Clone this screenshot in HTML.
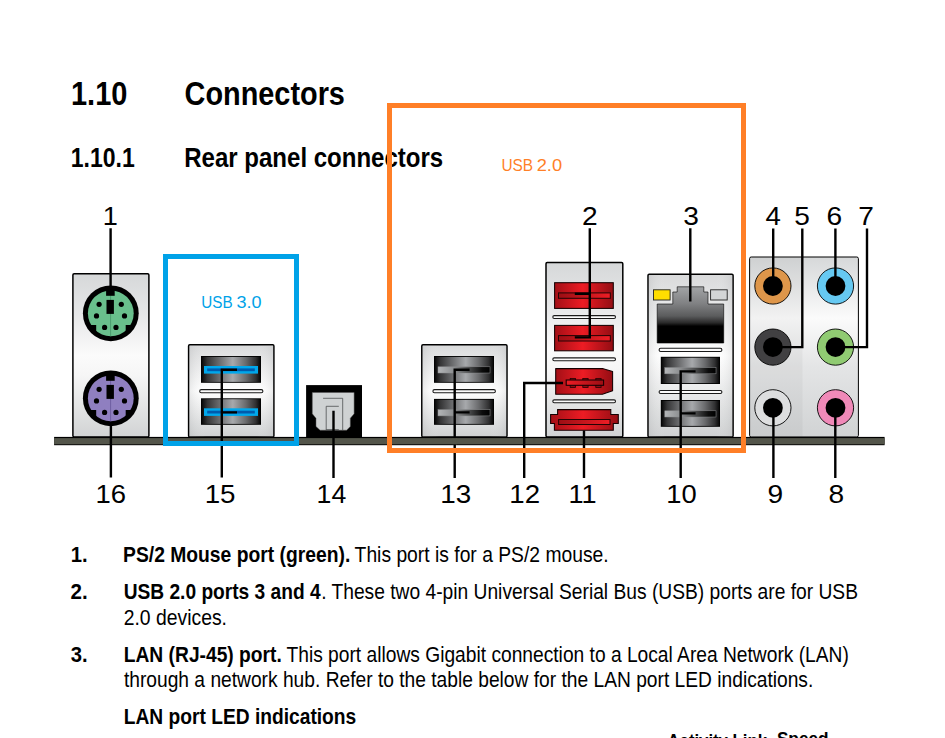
<!DOCTYPE html>
<html lang="en">
<head>
<meta charset="utf-8">
<title>1.10 Connectors</title>
<style>
html,body{margin:0;padding:0;background:#fff;}
body{width:945px;height:738px;overflow:hidden;}
svg{display:block;}
text{white-space:pre;}
</style>
</head>
<body>
<svg width="945" height="738" viewBox="0 0 945 738">

<defs>
<linearGradient id="pg" x1="0" y1="0" x2="0" y2="1">
<stop offset="0" stop-color="#d6d8d9"/><stop offset="0.25" stop-color="#e6e7e8"/><stop offset="0.5" stop-color="#fbfbfb"/><stop offset="0.62" stop-color="#f6f6f6"/><stop offset="1" stop-color="#d1d3d4"/>
</linearGradient>
<linearGradient id="pg2" x1="0" y1="0" x2="0" y2="1">
<stop offset="0" stop-color="#d9dadb"/><stop offset="0.5" stop-color="#ffffff"/><stop offset="1" stop-color="#cfd1d2"/>
</linearGradient>
<linearGradient id="pga" x1="0" y1="0" x2="0" y2="1">
<stop offset="0" stop-color="#d6d8d9"/><stop offset="0.34" stop-color="#fbfbfb"/><stop offset="0.6" stop-color="#e4e5e6"/><stop offset="1" stop-color="#d1d3d4"/>
</linearGradient>
<linearGradient id="bev" x1="0" y1="0" x2="1" y2="0">
<stop offset="0" stop-color="#9a9c9e" stop-opacity="0.2"/><stop offset="0.1" stop-color="#c8c9ca" stop-opacity="0.08"/><stop offset="0.2" stop-color="#fff" stop-opacity="0"/><stop offset="0.8" stop-color="#fff" stop-opacity="0"/><stop offset="0.9" stop-color="#c8c9ca" stop-opacity="0.08"/><stop offset="1" stop-color="#9a9c9e" stop-opacity="0.2"/>
</linearGradient>
<linearGradient id="usbg" x1="0" y1="0" x2="1" y2="0">
<stop offset="0" stop-color="#050505"/><stop offset="0.1" stop-color="#353536"/><stop offset="0.3" stop-color="#6a6b6d"/><stop offset="0.53" stop-color="#a7a9ac"/><stop offset="0.75" stop-color="#6a6b6d"/><stop offset="0.92" stop-color="#303031"/><stop offset="1" stop-color="#050505"/>
</linearGradient>
<linearGradient id="tong" x1="0" y1="0" x2="1" y2="0">
<stop offset="0" stop-color="#b4b6b8"/><stop offset="0.3" stop-color="#8c8e90"/><stop offset="0.6" stop-color="#4a4b4c"/><stop offset="0.85" stop-color="#0c0c0c"/><stop offset="1" stop-color="#000"/>
</linearGradient>
<linearGradient id="redg" x1="0" y1="0" x2="1" y2="0">
<stop offset="0" stop-color="#a30f16"/><stop offset="0.48" stop-color="#ed1c24"/><stop offset="1" stop-color="#930d13"/>
</linearGradient>
<linearGradient id="redt" x1="0" y1="0" x2="1" y2="0">
<stop offset="0" stop-color="#9c0e14"/><stop offset="1" stop-color="#ee1d25"/>
</linearGradient>
<linearGradient id="redt2" x1="0" y1="0" x2="1" y2="0">
<stop offset="0" stop-color="#ee1d25"/><stop offset="1" stop-color="#9c0e14"/>
</linearGradient>
<linearGradient id="rj" x1="0" y1="0" x2="0" y2="1">
<stop offset="0" stop-color="#a2a4a6"/><stop offset="0.3" stop-color="#808183"/><stop offset="0.52" stop-color="#5b5c5d"/><stop offset="0.64" stop-color="#2a2a2a"/><stop offset="0.7" stop-color="#000"/><stop offset="1" stop-color="#000"/>
</linearGradient>
</defs>

<rect x="72.9" y="273.8" width="76.00" height="163.20" rx="1.2" fill="url(#pg)" stroke="#000" stroke-width="1.5"/>
<rect x="188.6" y="344.8" width="85.30" height="92.20" rx="1.2" fill="url(#pg2)" stroke="#000" stroke-width="1.5"/>
<rect x="189.2" y="345.4" width="84.10" height="91.60" fill="url(#bev)"/>
<rect x="421.8" y="344.8" width="85.20" height="92.20" rx="1.2" fill="url(#pg2)" stroke="#000" stroke-width="1.5"/>
<rect x="422.4" y="345.4" width="84.00" height="91.60" fill="url(#bev)"/>
<rect x="546.0" y="262.6" width="76.80" height="174.40" rx="1.2" fill="url(#pg)" stroke="#000" stroke-width="1.5"/>
<rect x="648.0" y="274.2" width="85.10" height="162.80" rx="1.2" fill="url(#pg2)" stroke="#000" stroke-width="1.5"/>
<rect x="648.6" y="274.8" width="83.90" height="162.20" fill="url(#bev)"/>
<rect x="749.6" y="257.0" width="108.80" height="180.00" rx="1.6" fill="url(#pga)" stroke="#000" stroke-width="1.0"/>
<rect x="750.1" y="257.5" width="52.4" height="179" fill="#000" opacity="0.035"/>
<rect x="54.1" y="436.9" width="830.5" height="8.3" fill="#000"/>
<rect x="54.1" y="438.1" width="830.5" height="6.2" fill="#53554a"/>
<circle cx="110.8" cy="313.3" r="27.9" fill="#000"/>
<circle cx="110.8" cy="313.3" r="22.9" fill="#69bf8c"/>
<line x1="110.60" y1="295.30" x2="110.60" y2="336.70" stroke="#2f7d50" stroke-width="0.5"/>
<rect x="106.10" y="288.80" width="8.6" height="7.0" fill="#000"/>
<path d="M96.20 324.90 H88.65 A25.0 25.0 0 0 0 96.20 333.59 Z" fill="#000"/>
<path d="M125.70 324.90 H132.95 A25.0 25.0 0 0 1 125.70 333.37 Z" fill="#000"/>
<rect x="106.50" y="299.90" width="7.4" height="14.0" fill="#000"/>
<circle cx="99.10" cy="304.30" r="2.6" fill="#000"/>
<circle cx="121.30" cy="304.30" r="2.6" fill="#000"/>
<circle cx="96.50" cy="315.90" r="2.6" fill="#000"/>
<circle cx="124.50" cy="315.90" r="2.6" fill="#000"/>
<circle cx="104.60" cy="327.40" r="2.6" fill="#000"/>
<circle cx="116.00" cy="327.40" r="2.6" fill="#000"/>
<circle cx="110.8" cy="398.3" r="27.9" fill="#000"/>
<circle cx="110.8" cy="398.3" r="22.9" fill="#8f7fc0"/>
<line x1="110.60" y1="380.30" x2="110.60" y2="421.70" stroke="#4f3f85" stroke-width="0.5"/>
<rect x="106.10" y="373.80" width="8.6" height="7.0" fill="#000"/>
<path d="M96.20 409.90 H88.65 A25.0 25.0 0 0 0 96.20 418.59 Z" fill="#000"/>
<path d="M125.70 409.90 H132.95 A25.0 25.0 0 0 1 125.70 418.37 Z" fill="#000"/>
<rect x="106.50" y="384.90" width="7.4" height="14.0" fill="#000"/>
<circle cx="99.10" cy="389.30" r="2.6" fill="#000"/>
<circle cx="121.30" cy="389.30" r="2.6" fill="#000"/>
<circle cx="96.50" cy="400.90" r="2.6" fill="#000"/>
<circle cx="124.50" cy="400.90" r="2.6" fill="#000"/>
<circle cx="104.60" cy="412.40" r="2.6" fill="#000"/>
<circle cx="116.00" cy="412.40" r="2.6" fill="#000"/>
<rect x="201" y="356" width="60.00" height="26.80" fill="#000"/>
<rect x="201.50" y="356.90" width="59.00" height="25.00" fill="url(#usbg)"/>
<rect x="204.00" y="366.00" width="54.00" height="7.60" fill="#00a8ec"/>
<rect x="207.20" y="368.40" width="47.60" height="2.80" fill="#005bac"/>
<rect x="199.70" y="389.60" width="63.20" height="3.20" rx="1.60" fill="#fbfbfb" stroke="#1a1a1a" stroke-width="1.1"/>
<rect x="201" y="398.3" width="60.00" height="26.50" fill="#000"/>
<rect x="201.50" y="399.20" width="59.00" height="24.70" fill="url(#usbg)"/>
<rect x="204.00" y="408.30" width="54.00" height="7.60" fill="#00a8ec"/>
<rect x="207.20" y="410.70" width="47.60" height="2.80" fill="#005bac"/>
<rect x="306.1" y="385.1" width="55.9" height="52" fill="#000"/>
<path d="M312.3 392.5 H354.1 V413.8 L350.3 418.3 V426.5 L346.6 430.2 H320.1 L316 426.5 V418.3 L312.3 413.8 Z" fill="#cfd2d3" stroke="#555" stroke-width="0.5"/>
<path d="M323.1 398.3 H342.7 V430.2 M326.2 430.2 V406.3 H338.8 M326.2 429.6 H338.8" fill="none" stroke="#4d4f51" stroke-width="0.8"/>
<rect x="434" y="356" width="60.00" height="26.80" fill="#000"/>
<rect x="434.50" y="356.90" width="59.00" height="25.00" fill="url(#usbg)"/>
<rect x="438.00" y="366.80" width="52.00" height="6.20" fill="url(#tong)" stroke="#8a8c8e" stroke-width="0.5"/>
<rect x="432.90" y="389.60" width="62.50" height="3.20" rx="1.60" fill="#fbfbfb" stroke="#1a1a1a" stroke-width="1.1"/>
<rect x="434" y="398.9" width="60.00" height="25.90" fill="#000"/>
<rect x="434.50" y="399.80" width="59.00" height="24.10" fill="url(#usbg)"/>
<rect x="438.00" y="409.70" width="52.00" height="6.20" fill="url(#tong)" stroke="#8a8c8e" stroke-width="0.5"/>
<rect x="554.60" y="282.70" width="58.70" height="25.70" fill="url(#redg)" stroke="#140102" stroke-width="1.05"/>
<rect x="558.50" y="292.90" width="51.80" height="5.40" fill="url(#redt)" stroke="#240304" stroke-width="1"/>
<rect x="552.80" y="315.60" width="62.70" height="2.90" rx="1.45" fill="#fbfbfb" stroke="#1a1a1a" stroke-width="1.1"/>
<rect x="554.60" y="325.40" width="58.70" height="25.40" fill="url(#redg)" stroke="#140102" stroke-width="1.05"/>
<rect x="558.50" y="335.60" width="51.80" height="5.40" fill="url(#redt)" stroke="#240304" stroke-width="1"/>
<rect x="552.80" y="357.90" width="62.70" height="2.90" rx="1.45" fill="#fbfbfb" stroke="#1a1a1a" stroke-width="1.1"/>
<path d="M555.7 368.6 H602.4 L612.6 371.5 V390.8 L602.4 394.2 H555.7 Z" fill="url(#redg)" stroke="#140102" stroke-width="1.05" stroke-linejoin="round"/>
<rect x="570.2" y="378.4" width="5.3" height="9.0" fill="#8e0c12" stroke="#240304" stroke-width="0.8"/>
<rect x="582.8" y="378.4" width="5.3" height="9.0" fill="#8e0c12" stroke="#240304" stroke-width="0.8"/>
<rect x="595.8" y="378.4" width="5.3" height="9.0" fill="#8e0c12" stroke="#240304" stroke-width="0.8"/>
<rect x="566.2" y="380.0" width="37.4" height="5.3" fill="url(#redt2)" stroke="#140102" stroke-width="1.05"/>
<rect x="552.80" y="399.90" width="62.70" height="2.90" rx="1.45" fill="#fbfbfb" stroke="#1a1a1a" stroke-width="1.1"/>
<path d="M557.6 409.6 H610.8 V414.4 H618.3 V423.4 H613.3 V430.3 H554.4 V423.4 H550.6 V414.4 H557.6 Z" fill="url(#redg)" stroke="#140102" stroke-width="1.05"/>
<rect x="558.6" y="419.5" width="51.4" height="5.0" fill="url(#redt)" stroke="#240304" stroke-width="1"/>
<rect x="653.5" y="289.8" width="16.6" height="10.2" fill="#ffde00" stroke="#222" stroke-width="0.9"/>
<rect x="710.6" y="289.8" width="16.6" height="10.2" fill="#d3d5d6" stroke="#222" stroke-width="0.9"/>
<path d="M657.2 304 H672.8 V292 H677.2 V286.8 H703.8 V292 H708 V304 H723.7 V343 H657.2 Z" fill="url(#rj)" stroke="#000" stroke-width="0.6"/>
<rect x="659.10" y="348.30" width="62.80" height="3.20" rx="1.60" fill="#fbfbfb" stroke="#1a1a1a" stroke-width="1.1"/>
<rect x="660.8" y="356.8" width="59.20" height="27.20" fill="#000"/>
<rect x="661.30" y="357.70" width="58.20" height="25.40" fill="url(#usbg)"/>
<rect x="664.80" y="367.60" width="51.20" height="6.20" fill="url(#tong)" stroke="#8a8c8e" stroke-width="0.5"/>
<rect x="659.10" y="390.50" width="62.80" height="3.00" rx="1.50" fill="#fbfbfb" stroke="#1a1a1a" stroke-width="1.1"/>
<rect x="660.8" y="400" width="59.20" height="26.80" fill="#000"/>
<rect x="661.30" y="400.90" width="58.20" height="25.00" fill="url(#usbg)"/>
<rect x="664.80" y="410.80" width="51.20" height="6.20" fill="url(#tong)" stroke="#8a8c8e" stroke-width="0.5"/>
<circle cx="772.9" cy="286" r="18.1" fill="#de964a" stroke="#000" stroke-width="0.9"/>
<circle cx="772.9" cy="286" r="9.9" fill="#000"/>
<circle cx="835.5" cy="286" r="18.1" fill="#66c9f2" stroke="#000" stroke-width="0.9"/>
<circle cx="835.5" cy="286" r="9.9" fill="#000"/>
<circle cx="772.9" cy="347.1" r="18.1" fill="#414042" stroke="#000" stroke-width="0.9"/>
<circle cx="772.9" cy="347.1" r="9.9" fill="#000"/>
<circle cx="835.5" cy="347.1" r="18.1" fill="#90cb72" stroke="#000" stroke-width="0.9"/>
<circle cx="835.5" cy="347.1" r="9.9" fill="#000"/>
<circle cx="772.9" cy="407.8" r="18.1" fill="#dddedf" stroke="#000" stroke-width="0.9"/>
<circle cx="772.9" cy="407.8" r="9.9" fill="#000"/>
<circle cx="835.5" cy="407.8" r="18.1" fill="#f089b8" stroke="#000" stroke-width="0.9"/>
<circle cx="835.5" cy="407.8" r="9.9" fill="#000"/>
<path d="M110.6 228.2 V291 M110.9 425 V477.4 M237 369.8 H221.8 V477.4 M237 412.4 H221.8 M333.5 410.8 V478 M469.6 369.8 H454.7 V478 M469.6 412.4 H454.7 M574.8 293.8 H589.8 M589.8 228.2 V337.4 H574.8 M563 383 H524.2 V478 M584 430.6 V478 M690.3 228.2 V301.6 M695.6 371.4 H680.7 V478 M695.6 413.4 H680.7 M773.2 228.6 V286 M802.3 228.6 V347.1 H772.9 M835.4 228.6 V286 M867 228.6 V347.1 H835.5 M773.4 407.8 V478 M835.3 407.8 V478" fill="none" stroke="#000" stroke-width="2.4"/>
<rect x="452.5" y="438.1" width="4.4" height="6.2" fill="#53554a"/>
<text transform="translate(70.96 104.90) scale(0.8794 1)" font-family='"Liberation Sans", sans-serif' font-size="33.0" font-weight="bold" fill="#000" xml:space="preserve">1.10</text>
<text transform="translate(184.55 104.90) scale(0.8747 1)" font-family='"Liberation Sans", sans-serif' font-size="33.0" font-weight="bold" fill="#000" xml:space="preserve">Connectors</text>
<text transform="translate(70.82 166.70) scale(0.8460 1)" font-family='"Liberation Sans", sans-serif' font-size="27.2" font-weight="bold" fill="#000" xml:space="preserve">1.10.1</text>
<text transform="translate(184.22 166.70) scale(0.8835 1)" font-family='"Liberation Sans", sans-serif' font-size="27.2" font-weight="bold" fill="#000" xml:space="preserve">Rear panel connectors</text>
<text transform="translate(102.83 224.70) scale(1.0300 1)" font-family='"Liberation Sans", sans-serif' font-size="26.3" fill="#000" xml:space="preserve">1</text>
<text transform="translate(582.02 224.70) scale(1.0700 1)" font-family='"Liberation Sans", sans-serif' font-size="26.3" fill="#000" xml:space="preserve">2</text>
<text transform="translate(683.21 224.70) scale(1.0700 1)" font-family='"Liberation Sans", sans-serif' font-size="26.3" fill="#000" xml:space="preserve">3</text>
<text transform="translate(765.45 224.70) scale(1.0512 1)" font-family='"Liberation Sans", sans-serif' font-size="26.3" fill="#000" xml:space="preserve">4</text>
<text transform="translate(794.26 224.70) scale(1.0700 1)" font-family='"Liberation Sans", sans-serif' font-size="26.3" fill="#000" xml:space="preserve">5</text>
<text transform="translate(826.57 224.70) scale(1.0700 1)" font-family='"Liberation Sans", sans-serif' font-size="26.3" fill="#000" xml:space="preserve">6</text>
<text transform="translate(858.27 224.70) scale(1.0700 1)" font-family='"Liberation Sans", sans-serif' font-size="26.3" fill="#000" xml:space="preserve">7</text>
<text transform="translate(95.60 502.60) scale(1.0447 1)" font-family='"Liberation Sans", sans-serif' font-size="26.3" fill="#000" xml:space="preserve">16</text>
<text transform="translate(204.68 502.60) scale(1.0562 1)" font-family='"Liberation Sans", sans-serif' font-size="26.3" fill="#000" xml:space="preserve">15</text>
<text transform="translate(316.56 502.60) scale(1.0152 1)" font-family='"Liberation Sans", sans-serif' font-size="26.3" fill="#000" xml:space="preserve">14</text>
<text transform="translate(440.17 502.60) scale(1.0600 1)" font-family='"Liberation Sans", sans-serif' font-size="26.3" fill="#000" xml:space="preserve">13</text>
<text transform="translate(509.29 502.60) scale(1.0514 1)" font-family='"Liberation Sans", sans-serif' font-size="26.3" fill="#000" xml:space="preserve">12</text>
<text transform="translate(568.43 502.60) scale(1.0300 1)" font-family='"Liberation Sans", sans-serif' font-size="26.3" fill="#000" xml:space="preserve">11</text>
<text transform="translate(666.31 502.60) scale(1.0408 1)" font-family='"Liberation Sans", sans-serif' font-size="26.3" fill="#000" xml:space="preserve">10</text>
<text transform="translate(767.47 502.60) scale(1.0700 1)" font-family='"Liberation Sans", sans-serif' font-size="26.3" fill="#000" xml:space="preserve">9</text>
<text transform="translate(828.46 502.60) scale(1.0700 1)" font-family='"Liberation Sans", sans-serif' font-size="26.3" fill="#000" xml:space="preserve">8</text>
<text transform="translate(70.68 561.90) scale(0.9305 1)" font-family='"Liberation Sans", sans-serif' font-size="21.8" font-weight="bold" fill="#000" xml:space="preserve">1.</text>
<text transform="translate(123.05 561.90) scale(0.8851 1)" font-family='"Liberation Sans", sans-serif' font-size="21.8" font-weight="bold" fill="#000" xml:space="preserve">PS/2 Mouse port (green).</text>
<text transform="translate(354.61 561.90) scale(0.8848 1)" font-family='"Liberation Sans", sans-serif' font-size="21.8" fill="#000" xml:space="preserve">This port is for a PS/2 mouse.</text>
<text transform="translate(70.48 598.70) scale(0.9426 1)" font-family='"Liberation Sans", sans-serif' font-size="21.8" font-weight="bold" fill="#000" xml:space="preserve">2.</text>
<text transform="translate(123.65 598.70) scale(0.8793 1)" font-family='"Liberation Sans", sans-serif' font-size="21.8" font-weight="bold" fill="#000" xml:space="preserve">USB 2.0 ports 3 and 4</text><text transform="translate(321.17 598.70) scale(0.8816 1)" font-family='"Liberation Sans", sans-serif' font-size="21.8" fill="#000" xml:space="preserve">. These two 4-pin Universal Serial Bus (USB) ports are for USB</text>
<text transform="translate(123.63 624.50) scale(0.8891 1)" font-family='"Liberation Sans", sans-serif' font-size="21.8" fill="#000" xml:space="preserve">2.0 devices.</text>
<text transform="translate(70.69 661.80) scale(0.9298 1)" font-family='"Liberation Sans", sans-serif' font-size="21.8" font-weight="bold" fill="#000" xml:space="preserve">3.</text>
<text transform="translate(123.75 661.80) scale(0.8822 1)" font-family='"Liberation Sans", sans-serif' font-size="21.8" font-weight="bold" fill="#000" xml:space="preserve">LAN (RJ-45) port.</text>
<text transform="translate(286.52 661.80) scale(0.8813 1)" font-family='"Liberation Sans", sans-serif' font-size="21.8" fill="#000" xml:space="preserve">This port allows Gigabit connection to a Local Area Network (LAN)</text>
<text transform="translate(123.92 687.00) scale(0.8813 1)" font-family='"Liberation Sans", sans-serif' font-size="21.8" fill="#000" xml:space="preserve">through a network hub. Refer to the table below for the LAN port LED indications.</text>
<text transform="translate(123.76 724.00) scale(0.8811 1)" font-family='"Liberation Sans", sans-serif' font-size="21.8" font-weight="bold" fill="#000" xml:space="preserve">LAN port LED indications</text>
<text transform="translate(667.50 747.10) scale(0.8716 1)" font-family='"Liberation Sans", sans-serif' font-size="19.2" font-weight="bold" fill="#000" xml:space="preserve">Activity Link</text>
<text transform="translate(776.88 744.90) scale(0.8980 1)" font-family='"Liberation Sans", sans-serif' font-size="19.2" font-weight="bold" fill="#000" xml:space="preserve">Speed</text>
<rect x="165.5" y="256.5" width="131" height="187" fill="none" stroke="#00a2e8" stroke-width="5"/>
<rect x="389.5" y="105.5" width="354" height="345" fill="none" stroke="#ff7f27" stroke-width="5"/>
<text transform="translate(201.28 307.70) scale(0.9084 1)" font-family='"Liberation Sans", sans-serif' font-size="16.8" fill="#00a2e8" xml:space="preserve">USB</text>
<text transform="translate(236.38 307.70) scale(1.0723 1)" font-family='"Liberation Sans", sans-serif' font-size="16.8" fill="#00a2e8" xml:space="preserve">3.0</text>
<text transform="translate(501.47 170.90) scale(0.9177 1)" font-family='"Liberation Sans", sans-serif' font-size="16.8" fill="#ff7f27" xml:space="preserve">USB</text>
<text transform="translate(536.68 170.90) scale(1.0897 1)" font-family='"Liberation Sans", sans-serif' font-size="16.8" fill="#ff7f27" xml:space="preserve">2.0</text>
</svg>
</body>
</html>
